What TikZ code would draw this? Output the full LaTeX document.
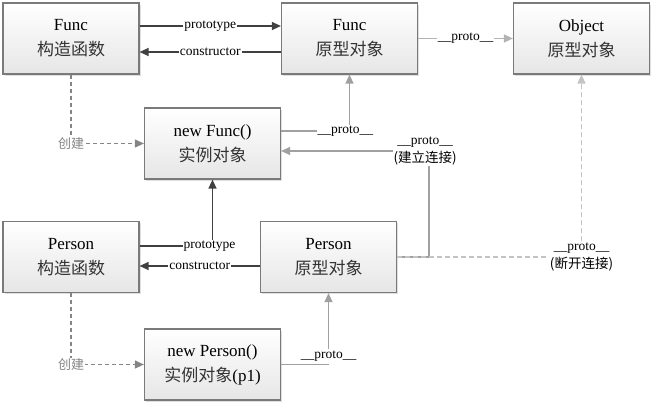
\documentclass[tikz,border=0pt]{standalone}
\usepackage{fontspec}
\setmainfont{Liberation Serif}
\newfontfamily\cjk{Noto Sans CJK SC}
\usetikzlibrary{arrows.meta,shadows}
\definecolor{boxline}{HTML}{7A7A7A}
\definecolor{boxbot}{HTML}{E6E6E6}
\definecolor{darkline}{HTML}{404040}
\definecolor{grayline}{HTML}{A0A0A0}
\definecolor{dashgray}{HTML}{858585}
\definecolor{lightdash}{HTML}{C4C4C4}
\definecolor{cjktext}{HTML}{333333}
\tikzset{
  box/.style={draw=boxline, line width=1.2pt, top color=white, bottom color=boxbot,
    minimum width=136pt, minimum height=71pt, inner sep=0pt, align=center,
    font=\fontsize{17}{25}\selectfont,
    drop shadow={shadow xshift=1.5pt, shadow yshift=-1.5pt, opacity=0.25}},
  lbl/.style={fill=white, inner sep=1pt, font=\fontsize{13.5}{15}\selectfont, text=black},
  lbltwo/.style={fill=white, inner sep=1pt, align=center, font=\fontsize{13.5}{18}\selectfont, text=black},
  cjklbl/.style={fill=white, inner sep=1pt, font=\cjk\fontsize{13}{15}\selectfont, text=dashgray},
  tip/.style={-{Triangle[length=9pt,width=8pt]}},
  dk/.style={tip, draw=darkline, line width=1.3pt},
  gr/.style={tip, draw=grayline, line width=1.3pt},
  dsh/.style={tip, draw=dashgray, line width=1.1pt, dash pattern=on 4pt off 3pt},
  ldsh/.style={tip, draw=lightdash, line width=1.1pt, dash pattern=on 5pt off 3pt},
  pdsh/.style={tip, draw=grayline!80, line width=1.3pt, dash pattern=on 20pt off 4pt},
}
\newcommand{\zh}[1]{{\cjk\color{cjktext}#1}}
\begin{document}
\begin{tikzpicture}[x=1pt,y=-1pt]
\useasboundingbox (0,0) rectangle (656,407);
\node[box] (fc) at (71,38.5) {Func\\\zh{构造函数}};
\node[box] (fp) at (349.5,38.5) {Func\\\zh{原型对象}};
\node[box] (op) at (581.5,38.5) {Object\\\zh{原型对象}};
\node[box] (nf) at (212.5,143.5) {new Func()\\\zh{实例对象}};
\node[box] (pc) at (71,257) {Person\\\zh{构造函数}};
\node[box] (pp) at (328.5,257) {Person\\\zh{原型对象}};
\node[box] (np) at (212.5,364.5) {new Person()\\\zh{实例对象}(p1)};

\draw[dk] (fc.east |- 0,26) -- node[lbl]{prototype} (fp.west |- 0,26);
\draw[dk] (fp.west |- 0,52) -- node[lbl]{constructor} (fc.east |- 0,52);
\draw[pdsh] (fp.east) -- node[lbl]{\_\_proto\_\_} (op.west);
\draw[dsh] (fc.south) |- node[cjklbl, pos=0.5]{创建} (nf.west);
\draw[gr] (nf.east |- 0,131) -| node[lbl, pos=0.47]{\_\_proto\_\_} (fp.south);
\draw[gr] (pp.east) -- ++(32,0) |- node[lbltwo, pos=0.5, xshift=-4pt]{\_\_proto\_\_\\{\cjk(建立连接)}} (nf.east |- 0,151);
\draw[ldsh] (pp.east) -| node[lbltwo, pos=0.5]{\_\_proto\_\_\\{\cjk(断开连接)}} (op.south);
\draw[dk] (pc.east |- 0,246) -| node[lbl, pos=0.48]{prototype} (nf.south);
\draw[dk] (pp.west |- 0,266) -- node[lbl]{constructor} (pc.east |- 0,266);
\draw[dsh] (pc.south) |- node[cjklbl, pos=0.5]{创建} (np.west);
\draw[gr] (np.east) -| node[lbl, pos=0.5, anchor=south, inner sep=2pt]{\_\_proto\_\_} (pp.south);
\end{tikzpicture}
\end{document}
